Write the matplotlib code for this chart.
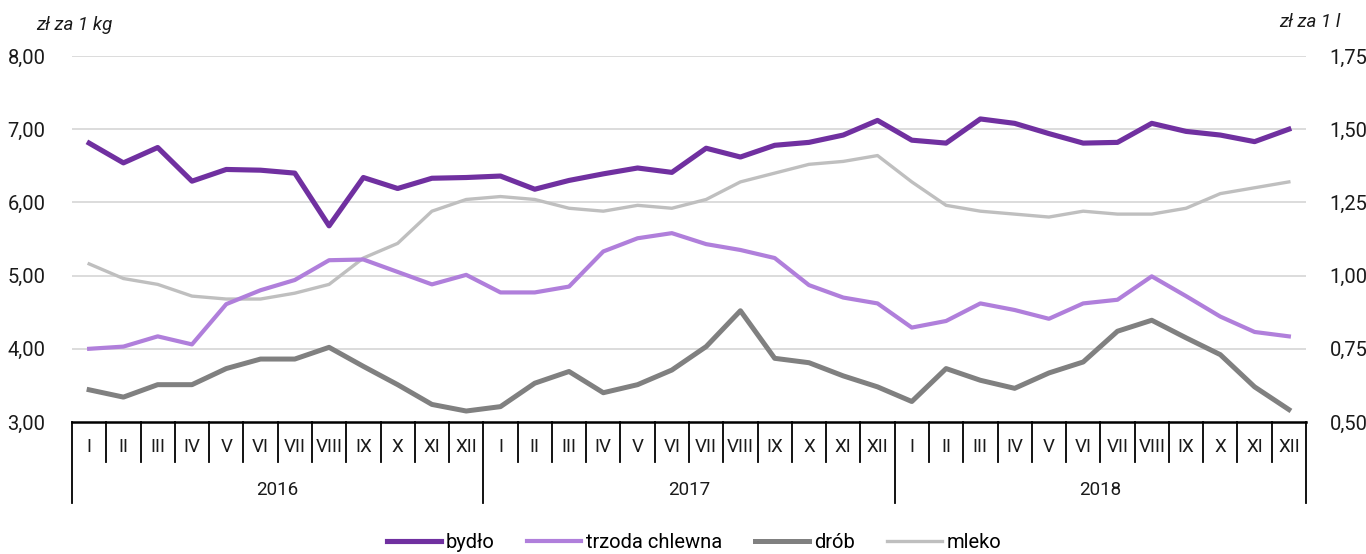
import matplotlib
matplotlib.use("Agg")
import matplotlib.pyplot as plt
import matplotlib.transforms as mtransforms
from matplotlib.ticker import FuncFormatter, FixedLocator

plt.rcParams['font.family'] = ['Roboto', 'DejaVu Sans']

months = ["I", "II", "III", "IV", "V", "VI", "VII", "VIII", "IX", "X", "XI", "XII"]
years = ["2016", "2017", "2018"]

bydlo = [6.81, 6.54, 6.75, 6.29, 6.45, 6.44, 6.40, 5.68, 6.34, 6.19, 6.33, 6.34,
         6.36, 6.18, 6.30, 6.39, 6.47, 6.41, 6.74, 6.62, 6.78, 6.82, 6.92, 7.12,
         6.85, 6.81, 7.14, 7.08, 6.94, 6.81, 6.82, 7.08, 6.97, 6.92, 6.83, 7.00]
trzoda = [4.00, 4.03, 4.17, 4.06, 4.61, 4.80, 4.94, 5.21, 5.22, 5.05, 4.88, 5.01,
          4.77, 4.77, 4.85, 5.33, 5.51, 5.58, 5.43, 5.35, 5.24, 4.87, 4.70, 4.62,
          4.29, 4.38, 4.62, 4.53, 4.41, 4.62, 4.67, 4.99, 4.72, 4.44, 4.23, 4.17]
drob = [3.44, 3.34, 3.51, 3.51, 3.73, 3.86, 3.86, 4.02, 3.76, 3.51, 3.24, 3.15,
        3.21, 3.53, 3.69, 3.40, 3.51, 3.71, 4.03, 4.52, 3.87, 3.81, 3.63, 3.48,
        3.28, 3.73, 3.57, 3.46, 3.67, 3.82, 4.24, 4.39, 4.15, 3.92, 3.48, 3.17]
mleko = [1.04, 0.99, 0.97, 0.93, 0.92, 0.92, 0.94, 0.97, 1.06, 1.11, 1.22, 1.26,
         1.27, 1.26, 1.23, 1.22, 1.24, 1.23, 1.26, 1.32, 1.35, 1.38, 1.39, 1.41,
         1.32, 1.24, 1.22, 1.21, 1.20, 1.22, 1.21, 1.21, 1.23, 1.28, 1.30, 1.32]

left_ticks = [3, 4, 5, 6, 7, 8]
right_ticks = [0.50, 0.75, 1.00, 1.25, 1.50, 1.75]

c_bydlo = "#7030A0"
c_trzoda = "#B07FDB"
c_drob = "#808080"
c_mleko = "#BFBFBF"

W, H = 1366, 554
fig = plt.figure(figsize=(W / 100, H / 100), dpi=100)
L, R, T, B = 72, 1306, 56, 422
ax = fig.add_axes([L / W, 1 - B / H, (R - L) / W, (B - T) / H])
ax2 = ax.twinx()
ax2.set_zorder(ax.get_zorder() - 1)
ax.patch.set_visible(False)

n = len(bydlo)
x = list(range(n))

ax.plot(x, bydlo, color=c_bydlo, lw=3.7, label="bydło", zorder=5)
ax.plot(x, trzoda, color=c_trzoda, lw=3.0, label="trzoda chlewna", zorder=4)
ax.plot(x, drob, color=c_drob, lw=3.6, label="drób", zorder=3)
l4, = ax2.plot(x, mleko, color=c_mleko, lw=2.4, label="mleko", zorder=3)

ax.set_xlim(-0.5, n - 0.5)
ax.set_ylim(3, 8)
ax2.set_ylim(0.5, 1.75)
ax.yaxis.set_major_locator(FixedLocator(left_ticks))
ax2.yaxis.set_major_locator(FixedLocator(right_ticks))
fmt = FuncFormatter(lambda v, p: f"{v:.2f}".replace(".", ","))
ax.yaxis.set_major_formatter(fmt)
ax2.yaxis.set_major_formatter(fmt)

for v in right_ticks[1:]:
    ax2.axhline(v, color="#D9D9D9", lw=1.3, zorder=1)

for a in (ax, ax2):
    for s in ("top", "left", "right", "bottom"):
        a.spines[s].set_visible(False)
    a.tick_params(axis="both", length=0)
ax.tick_params(axis="y", labelsize=14.5, pad=19, labelcolor="#1a1a1a")
ax2.tick_params(axis="y", labelsize=14.5, pad=17, labelcolor="#1a1a1a")
ax.set_xticks([])

ax.axhline(3, color="black", lw=1.8, zorder=6, clip_on=False)

trans = mtransforms.blended_transform_factory(ax.transData, ax.transAxes)
ph = B - T
y_msep = -(462 - B) / ph
y_ysep = -(503 - B) / ph
y_mlab = -(447 - B) / ph
y_ylab = -(490 - B) / ph

for i in range(n + 1):
    bottom = y_ysep if i % 12 == 0 else y_msep
    ax.plot([i - 0.5, i - 0.5], [0, bottom], color="black", lw=1.3,
            transform=trans, clip_on=False)
for i in range(n):
    ax.text(i, y_mlab, months[i % 12], transform=trans, ha="center", va="center",
            fontsize=13.5, color="#1a1a1a")
for k, yr in enumerate(years):
    ax.text(12 * k + 5.5, y_ylab, yr, transform=trans, ha="center", va="center",
            fontsize=13.5, color="#1a1a1a")

fig.text(36 / W, 1 - 25 / H, "zł za 1 kg", style="italic", fontsize=13.5,
         ha="left", va="center", color="#1a1a1a")
fig.text(1340 / W, 1 - 22 / H, "zł za 1 l", style="italic", fontsize=13.5,
         ha="right", va="center", color="#1a1a1a")

handles = ax.get_lines()[:3] + [l4]
fig.legend(handles, [h.get_label() for h in handles], loc="center",
           bbox_to_anchor=(694 / W, 1 - 543 / H), ncol=4, frameon=False,
           fontsize=14.5, handlelength=2.7, handletextpad=0.25, columnspacing=1.6)

fig.savefig("out.png", dpi=100)
